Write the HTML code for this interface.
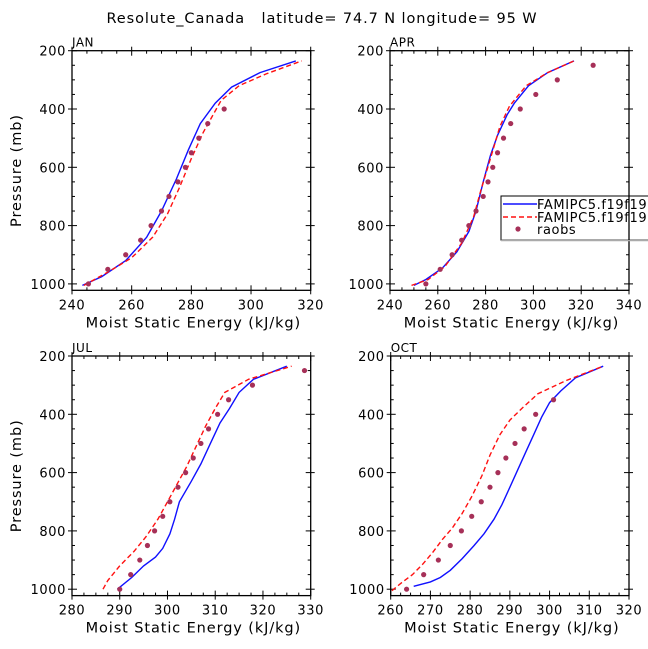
<!DOCTYPE html>
<html><head><meta charset="utf-8"><style>
body{margin:0;background:#fff}
svg{display:block;font-family:"DejaVu Sans","Liberation Sans",sans-serif}
</style></head><body>
<svg id="chart" width="648" height="649" xmlns="http://www.w3.org/2000/svg">
<text x="322" y="23" font-size="14.5" text-anchor="middle" letter-spacing="0.9" xml:space="preserve" style="white-space:pre">Resolute_Canada   latitude= 74.7 N longitude= 95 W</text>
</svg>
<script>
// JAN
const janBlueX=[243.5,250,258,265,270,275,279,283,288,293.5,303,315];
const janBlueP=[1005,975,920,840,750,640,540,450,380,325,275,235];
const janRedX=[244,252,260,267,272,276,280,284,290,296,305,317];
const janRedP=[1005,960,910,840,760,670,570,480,370,320,280,235];
const janObsX=[245.5,252,258,263,266.5,270,272.5,275.5,278,280,282.5,285.5,291];
const janObsP=[1000,950,900,850,800,750,700,650,600,550,500,450,400];
// APR
const aprBlueX=[250,255,262,268,273,276,279,282,285,289,292,298,306,317];
const aprBlueP=[1005,985,945,890,820,750,650,560,490,420,380,320,275,235];
const aprRedX=[249,256,263,270,275,278,282,286,290,297,306,317];
const aprRedP=[1005,985,940,860,770,680,570,460,390,320,275,235];
const aprObsX=[255,261,266,270,273,276,279,281,283,285,287.5,290.5,294.5,301,310,325];
const aprObsP=[1000,950,900,850,800,750,700,650,600,550,500,450,400,350,300,250];
// JUL
const julBlueX=[289.5,292.5,295,297.5,299,300.5,301.5,302.5,305,307,309,311,313,315,318,325];
const julBlueP=[1000,960,920,890,860,810,760,700,630,570,500,430,380,325,280,235];
const julRedX=[286.5,287.5,290,293,295.5,298,300,302,304,306,308,310,312,317,326];
const julRedP=[1000,970,920,870,820,760,700,640,580,510,440,380,325,280,235];
const julObsX=[290,292.3,294.2,295.8,297.3,299,300.5,302.2,303.8,305.4,307,308.6,310.5,312.8,317.8,328.7];
const julObsP=[1000,950,900,850,800,750,700,650,600,550,500,450,400,350,300,250];
// OCT
const octBlueX=[265.8,270,272.5,275,278,281,283.5,286,288,290,292,294,296,298,300,302.8,306.5,313.5];
const octBlueP=[990,975,960,935,895,850,810,760,710,650,590,530,470,410,360,320,275,235];
const octRedX=[260.3,263,265.5,268,270.5,273,275.5,278,280.5,283,285,287.5,290,293,297,304,313.5];
const octRedP=[1005,975,950,915,875,830,790,740,680,610,540,470,420,380,330,285,235];
const octObsX=[264,268.3,272,275,277.8,280.4,282.8,285,287,289,291.3,293.6,296.5,301];
const octObsP=[1000,950,900,850,800,750,700,650,600,550,500,450,400,350];
const pTicks=[200,400,600,800,1000];

const panels=[
 {name:'jan',label:'JAN',x0:72,x1:310.7,y0:50.7,xmin:240,xmax:320,xstep:20,minor:5,ylab:true,
  b:[janBlueX,janBlueP],r:[janRedX,janRedP],o:[janObsX,janObsP]},
 {name:'apr',label:'APR',x0:390,x1:629,y0:50.7,xmin:240,xmax:340,xstep:20,minor:5,ylab:false,
  b:[aprBlueX,aprBlueP],r:[aprRedX,aprRedP],o:[aprObsX,aprObsP]},
 {name:'jul',label:'JUL',x0:72,x1:310.7,y0:356,xmin:280,xmax:330,xstep:10,minor:2.5,ylab:true,
  b:[julBlueX,julBlueP],r:[julRedX,julRedP],o:[julObsX,julObsP]},
 {name:'oct',label:'OCT',x0:390.7,x1:629,y0:356,xmin:260,xmax:320,xstep:10,minor:2.5,ylab:false,
  b:[octBlueX,octBlueP],r:[octRedX,octRedP],o:[octObsX,octObsP]}
];
const NS='http://www.w3.org/2000/svg';
const svg=document.getElementById('chart');
function mk(t,a,parent){const e=document.createElementNS(NS,t);for(const k in a)e.setAttribute(k,a[k]);(parent||svg).appendChild(e);return e;}
const PMAX=1022;
panels.forEach(p=>{
 const ky=0.2915;
 const yb=p.y0+(PMAX-200)*ky;
 const X=v=>p.x0+(v-p.xmin)/(p.xmax-p.xmin)*(p.x1-p.x0);
 const Y=v=>p.y0+(v-200)*ky;
 const g=mk('g',{});
 
 
 const fr=mk('rect',{x:p.x0,y:p.y0,width:p.x1-p.x0,height:yb-p.y0,fill:'none',stroke:'#000','stroke-width':1.3},g);
 
 
 const pt=mk('text',{x:p.x0,y:p.y0-4,'font-size':12,'letter-spacing':0.5},g);pt.textContent=p.label;
 
 
 for(let v=p.xmin;v<=p.xmax+1e-6;v+=p.minor){
  const x=X(v);const maj=Math.abs(((v-p.xmin)/p.xstep)-Math.round((v-p.xmin)/p.xstep))<1e-6;
  const L=maj?5:3;
  mk('line',{x1:x,x2:x,y1:yb,y2:yb-L,stroke:'#000'},g);mk('line',{x1:x,x2:x,y1:p.y0,y2:p.y0+L,stroke:'#000'},g);
  if(maj){mk('line',{x1:x,x2:x,y1:yb,y2:yb+4,stroke:'#000'},g);mk('line',{x1:x,x2:x,y1:p.y0,y2:p.y0-4,stroke:'#000'},g);
   const t=mk('text',{x:x,y:yb+19,'font-size':13,'text-anchor':'middle','letter-spacing':0.6},g);t.textContent=v;
   
   }
 }
 for(let v=200;v<=1000;v+=50){
  const y=Y(v);const maj=v%200===0;const L=maj?5:3;
  mk('line',{x1:p.x0,x2:p.x0+L,y1:y,y2:y,stroke:'#000'},g);mk('line',{x1:p.x1,x2:p.x1-L,y1:y,y2:y,stroke:'#000'},g);
  if(maj){mk('line',{x1:p.x0,x2:p.x0-4,y1:y,y2:y,stroke:'#000'},g);mk('line',{x1:p.x1,x2:p.x1+4,y1:y,y2:y,stroke:'#000'},g);}
 }
 pTicks.forEach(v=>{const t=mk('text',{x:p.x0-6,y:Y(v)+5,'font-size':13,'text-anchor':'end','letter-spacing':0.6},g);t.textContent=v;
  
  });
 const xt=mk('text',{x:(p.x0+p.x1)/2+2,y:yb+37,'font-size':14.5,'text-anchor':'middle','letter-spacing':0.9},g);xt.textContent='Moist Static Energy (kJ/kg)';
 
 
 if(p.ylab){const cy=(p.y0+yb)/2;const yt=mk('text',{x:21,y:cy,'font-size':14.5,'text-anchor':'middle','letter-spacing':0.9,transform:`rotate(-90 21 ${cy})`},g);yt.textContent='Pressure (mb)';
  
  }
 const path=(xs,ps)=>xs.map((v,i)=>(i?'L':'M')+X(v).toFixed(1)+','+Y(ps[i]).toFixed(1)).join('');
 const bl=mk('path',{d:path(p.b[0],p.b[1]),fill:'none',stroke:'#1010ff','stroke-width':1.4},g);
 
 
 const rl=mk('path',{d:path(p.r[0],p.r[1]),fill:'none',stroke:'#ff1010','stroke-width':1.4,'stroke-dasharray':'5,3'},g);
 
 
 p.o[0].forEach((v,i)=>{const c=mk('circle',{cx:X(v),cy:Y(p.o[1][i]),r:2.6,fill:'#a63058'},g);
  
  });
});
const lg=mk('g',{});


mk('rect',{x:501,y:196,width:160,height:44,fill:'#fff',stroke:'#000','stroke-width':1},lg);
mk('line',{x1:501,x2:648,y1:240.5,y2:240.5,stroke:'#aaa','stroke-width':1.5},lg);
mk('line',{x1:629,x2:629,y1:196,y2:240,stroke:'#000','stroke-width':1.3},lg);
mk('line',{x1:503,x2:537,y1:204,y2:204,stroke:'#1010ff','stroke-width':1.4},lg);
mk('line',{x1:503,x2:537,y1:217,y2:217,stroke:'#ff1010','stroke-width':1.4,'stroke-dasharray':'5,3'},lg);
mk('circle',{cx:518,cy:229,r:2.6,fill:'#a63058'},lg);
[['FAMIPC5.f19f19.',209,'legend-entry-model1'],['FAMIPC5.f19f19.',222,'legend-entry-model2'],['raobs',234,'legend-entry-raobs']].forEach(a=>{
 const t=mk('text',{x:537,y:a[1],'font-size':13,'letter-spacing':0.6},lg);t.textContent=a[0];
 
 });
</script>
</body></html>
